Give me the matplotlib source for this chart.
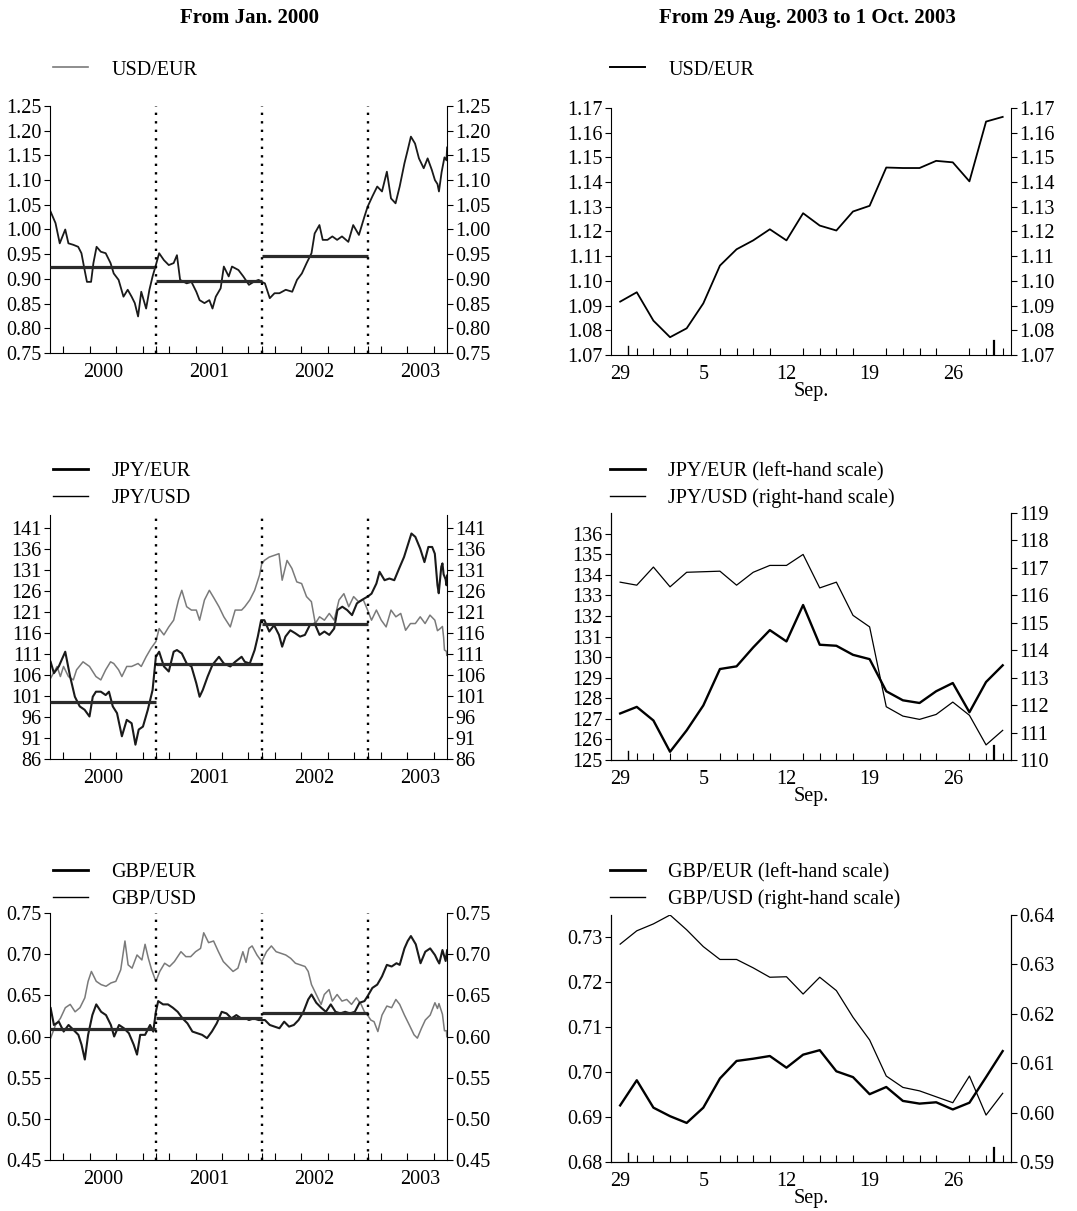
import numpy as np
import matplotlib
matplotlib.use('Agg')
import matplotlib.pyplot as plt
from matplotlib.lines import Line2D
from matplotlib.ticker import FixedLocator, FormatStrFormatter

plt.rcParams['font.family'] = ['Liberation Serif', 'DejaVu Serif']
plt.rcParams['font.size'] = 14.5

# ---------------- data: from Jan. 2000 (decimal years) ----------------
USD_EUR_T = [2000.006, 2000.052, 2000.092, 2000.144, 2000.174, 2000.220, 2000.266, 2000.297, 2000.327, 2000.349,
             2000.388, 2000.410, 2000.440, 2000.480, 2000.526, 2000.572, 2000.602, 2000.648, 2000.694, 2000.734,
             2000.771, 2000.801, 2000.832, 2000.862, 2000.908, 2000.939, 2000.969,
             2001.000, 2001.031, 2001.076, 2001.122, 2001.168, 2001.199, 2001.229, 2001.291, 2001.336, 2001.382,
             2001.413, 2001.459, 2001.505, 2001.535, 2001.566, 2001.612, 2001.642, 2001.688, 2001.719, 2001.780,
             2001.826, 2001.879, 2001.924, 2001.970,
             2002.000, 2002.030, 2002.076, 2002.121, 2002.167, 2002.227, 2002.288, 2002.333, 2002.379, 2002.424,
             2002.470, 2002.500, 2002.545, 2002.576, 2002.621, 2002.667, 2002.712, 2002.758, 2002.818, 2002.864,
             2002.918, 2002.970,
             2003.000, 2003.045, 2003.091, 2003.136, 2003.182, 2003.221, 2003.264, 2003.303, 2003.348, 2003.379,
             2003.409, 2003.448, 2003.485, 2003.530, 2003.567, 2003.606, 2003.636, 2003.660, 2003.674, 2003.699,
             2003.726, 2003.745, 2003.751]
USD_EUR = [1.036, 1.013, 0.972, 1.000, 0.972, 0.969, 0.965, 0.952, 0.918, 0.894,
           0.894, 0.932, 0.965, 0.955, 0.952, 0.932, 0.911, 0.898, 0.864, 0.878,
           0.864, 0.851, 0.824, 0.874, 0.840, 0.878, 0.905,
           0.928, 0.952, 0.938, 0.928, 0.932, 0.948, 0.898, 0.891, 0.894, 0.874,
           0.857, 0.851, 0.857, 0.840, 0.864, 0.881, 0.925, 0.905, 0.925, 0.918,
           0.905, 0.888, 0.894, 0.898,
           0.894, 0.891, 0.861, 0.871, 0.871, 0.878, 0.874, 0.898, 0.911, 0.932,
           0.952, 0.992, 1.009, 0.979, 0.979, 0.986, 0.979, 0.986, 0.975, 1.009,
           0.989, 1.026,
           1.046, 1.067, 1.087, 1.077, 1.117, 1.063, 1.053, 1.087, 1.134, 1.161,
           1.188, 1.174, 1.144, 1.124, 1.144, 1.121, 1.100, 1.092, 1.077, 1.116,
           1.146, 1.140, 1.166]

JPY_EUR_T = [2000.006, 2000.037, 2000.083, 2000.144, 2000.190, 2000.235, 2000.281, 2000.327, 2000.373, 2000.404,
             2000.434, 2000.480, 2000.526, 2000.557, 2000.593, 2000.633, 2000.679, 2000.725, 2000.771, 2000.807,
             2000.838, 2000.878, 2000.924, 2000.969,
             2001.000, 2001.031, 2001.076, 2001.122, 2001.168, 2001.199, 2001.245, 2001.291, 2001.336, 2001.382,
             2001.413, 2001.443, 2001.489, 2001.535, 2001.596, 2001.642, 2001.703, 2001.749, 2001.810, 2001.840,
             2001.887, 2001.933, 2001.963, 2001.994,
             2002.025, 2002.071, 2002.117, 2002.163, 2002.193, 2002.224, 2002.270, 2002.316, 2002.362, 2002.408,
             2002.454, 2002.500, 2002.546, 2002.592, 2002.638, 2002.684, 2002.715, 2002.761, 2002.807, 2002.853,
             2002.899, 2002.945,
             2003.000, 2003.037, 2003.083, 2003.113, 2003.160, 2003.206, 2003.252, 2003.298, 2003.344, 2003.374,
             2003.414, 2003.451, 2003.497, 2003.537, 2003.574, 2003.610, 2003.635, 2003.660, 2003.672, 2003.696,
             2003.707, 2003.718, 2003.737, 2003.745, 2003.751]
JPY_EUR = [109.1, 106.4, 108.0, 111.5, 105.6, 100.8, 98.5, 97.7, 96.1, 100.8,
           102.0, 102.0, 101.2, 102.0, 98.5, 96.9, 91.4, 95.3, 94.5, 89.4,
           93.0, 93.7, 97.7, 102.4,
           110.3, 111.5, 108.0, 106.8, 111.5, 111.9, 111.1, 108.7, 108.0, 104.0,
           100.8, 102.4, 105.6, 108.4, 110.3, 108.7, 108.0, 109.1, 110.3, 109.1,
           108.7, 111.9, 115.1, 119.0,
           119.0, 116.3, 117.8, 115.5, 112.7, 115.1, 116.6, 115.9, 115.1, 115.5,
           117.8, 118.2, 115.5, 116.3, 115.5, 117.0, 121.4, 122.2, 121.4, 120.2,
           123.0, 123.8,
           124.6, 125.3, 127.7, 130.5, 128.5, 128.9, 128.5, 131.3, 134.0, 136.4,
           139.6, 138.8, 136.0, 132.8, 136.4, 136.4, 134.8, 127.3, 125.4, 131.7,
           132.5, 129.9, 128.7, 127.3, 129.6]

JPY_USD_T = [2000.006, 2000.067, 2000.098, 2000.128, 2000.174, 2000.220, 2000.251, 2000.312, 2000.373, 2000.434,
             2000.480, 2000.526, 2000.572, 2000.602, 2000.648, 2000.679, 2000.725, 2000.771, 2000.832, 2000.862,
             2000.908, 2000.954,
             2001.000, 2001.031, 2001.076, 2001.122, 2001.168, 2001.214, 2001.245, 2001.291, 2001.336, 2001.382,
             2001.413, 2001.459, 2001.505, 2001.550, 2001.596, 2001.642, 2001.703, 2001.749, 2001.810, 2001.840,
             2001.887, 2001.933, 2001.979,
             2002.000, 2002.025, 2002.071, 2002.117, 2002.163, 2002.193, 2002.239, 2002.285, 2002.331, 2002.377,
             2002.423, 2002.469, 2002.506, 2002.546, 2002.592, 2002.638, 2002.684, 2002.730, 2002.776, 2002.822,
             2002.868, 2002.914, 2002.960,
             2003.000, 2003.037, 2003.083, 2003.129, 2003.175, 2003.221, 2003.267, 2003.313, 2003.359, 2003.405,
             2003.451, 2003.497, 2003.543, 2003.589, 2003.635, 2003.660, 2003.681, 2003.707, 2003.718, 2003.726,
             2003.745, 2003.748, 2003.751]
JPY_USD = [105.2, 108.0, 105.6, 108.0, 105.6, 104.8, 107.2, 109.1, 108.0, 105.6,
           104.8, 107.2, 109.1, 108.7, 107.2, 105.6, 108.0, 108.0, 108.7, 108.0,
           110.3, 112.3,
           113.9, 117.0, 115.5, 117.4, 119.0, 123.8, 126.1, 122.2, 121.4, 121.4,
           119.0, 123.8, 126.1, 124.2, 122.2, 119.8, 117.4, 121.4, 121.4, 122.2,
           123.8, 126.1, 129.7,
           132.4, 133.2, 134.0, 134.4, 134.8, 128.5, 133.2, 131.3, 128.1, 127.7,
           124.6, 123.4, 118.2, 119.8, 119.0, 120.6, 119.0, 123.8, 125.3, 122.2,
           124.6, 123.4, 123.8,
           121.4, 119.0, 121.4, 119.0, 117.4, 121.4, 119.8, 120.6, 116.6, 118.2,
           118.2, 119.8, 118.2, 120.2, 119.0, 116.5, 116.9, 117.5, 114.9, 111.9,
           111.6, 110.6, 111.1]

GBP_EUR_T = [2000.006, 2000.037, 2000.083, 2000.129, 2000.175, 2000.222, 2000.268, 2000.298, 2000.329, 2000.360,
             2000.400, 2000.437, 2000.483, 2000.529, 2000.575, 2000.606, 2000.652, 2000.698, 2000.745, 2000.791,
             2000.822, 2000.852, 2000.898, 2000.945, 2000.975,
             2001.000, 2001.022, 2001.068, 2001.114, 2001.160, 2001.206, 2001.252, 2001.298, 2001.345, 2001.391,
             2001.437, 2001.483, 2001.529, 2001.575, 2001.622, 2001.668, 2001.714, 2001.760, 2001.806, 2001.852,
             2001.879, 2001.924, 2001.970,
             2002.030, 2002.076, 2002.121, 2002.167, 2002.212, 2002.258, 2002.303, 2002.348, 2002.394, 2002.439,
             2002.470, 2002.515, 2002.561, 2002.606, 2002.652, 2002.697, 2002.742, 2002.788, 2002.833, 2002.879,
             2002.924, 2002.970,
             2003.000, 2003.045, 2003.091, 2003.136, 2003.182, 2003.227, 2003.273, 2003.303, 2003.348, 2003.379,
             2003.409, 2003.455, 2003.500, 2003.545, 2003.591, 2003.636, 2003.660, 2003.677, 2003.707, 2003.737,
             2003.751]
GBP_EUR = [0.6345, 0.614, 0.618, 0.606, 0.614, 0.608, 0.602, 0.590, 0.572, 0.602,
           0.626, 0.639, 0.630, 0.626, 0.614, 0.600, 0.614, 0.610, 0.604, 0.590,
           0.578, 0.602, 0.602, 0.614, 0.606,
           0.630, 0.643, 0.639, 0.639, 0.635, 0.630, 0.622, 0.616, 0.606, 0.604,
           0.602, 0.598, 0.606, 0.616, 0.630, 0.628, 0.622, 0.626, 0.622, 0.622,
           0.620, 0.622, 0.620,
           0.620, 0.614, 0.612, 0.610, 0.618, 0.612, 0.614, 0.620, 0.630, 0.645,
           0.651, 0.641, 0.635, 0.630, 0.639, 0.630, 0.628, 0.630, 0.628, 0.630,
           0.641, 0.643,
           0.649, 0.659, 0.663, 0.673, 0.687, 0.685, 0.689, 0.687, 0.707, 0.716,
           0.722, 0.712, 0.689, 0.703, 0.707, 0.699, 0.6926, 0.6887, 0.705, 0.6917,
           0.7047]

GBP_USD_T = [2000.006, 2000.052, 2000.098, 2000.145, 2000.191, 2000.237, 2000.283, 2000.329, 2000.360, 2000.391,
             2000.437, 2000.483, 2000.529, 2000.575, 2000.622, 2000.668, 2000.708, 2000.738, 2000.775, 2000.822,
             2000.868, 2000.898, 2000.929, 2000.960,
             2001.000, 2001.037, 2001.083, 2001.129, 2001.175, 2001.237, 2001.283, 2001.329, 2001.375, 2001.422,
             2001.452, 2001.498, 2001.545, 2001.591, 2001.637, 2001.683, 2001.729, 2001.775, 2001.822, 2001.852,
             2001.879, 2001.909, 2001.955,
             2002.000, 2002.045, 2002.091, 2002.136, 2002.182, 2002.227, 2002.273, 2002.318, 2002.364, 2002.409,
             2002.439, 2002.470, 2002.500, 2002.530, 2002.561, 2002.591, 2002.636, 2002.667, 2002.712, 2002.758,
             2002.803, 2002.848, 2002.894, 2002.939, 2002.970,
             2003.000, 2003.030, 2003.061, 2003.097, 2003.136, 2003.182, 2003.227, 2003.267, 2003.303, 2003.348,
             2003.394, 2003.439, 2003.470, 2003.509, 2003.545, 2003.591, 2003.636, 2003.660, 2003.674, 2003.707,
             2003.726, 2003.745, 2003.748, 2003.751]
GBP_USD = [0.598, 0.614, 0.622, 0.635, 0.639, 0.630, 0.635, 0.647, 0.667, 0.679,
           0.667, 0.663, 0.661, 0.665, 0.667, 0.681, 0.716, 0.687, 0.683, 0.699,
           0.693, 0.712, 0.695, 0.681,
           0.667, 0.679, 0.689, 0.685, 0.691, 0.703, 0.697, 0.697, 0.703, 0.707,
           0.726, 0.714, 0.716, 0.703, 0.691, 0.685, 0.679, 0.683, 0.703, 0.690,
           0.707, 0.710, 0.699,
           0.691, 0.703, 0.710, 0.703, 0.701, 0.699, 0.695, 0.689, 0.687, 0.685,
           0.679, 0.663, 0.655, 0.647, 0.639, 0.651, 0.657, 0.643, 0.651, 0.643,
           0.645, 0.639, 0.647, 0.639, 0.630,
           0.626, 0.620, 0.618, 0.606, 0.626, 0.637, 0.635, 0.645, 0.639, 0.626,
           0.614, 0.602, 0.598, 0.610, 0.620, 0.626, 0.641, 0.634, 0.640, 0.627,
           0.607, 0.607, 0.5995, 0.604]

# yearly averages (horizontal bars)
MEAN_YEARS = [2000, 2001, 2002]
USD_EUR_MEAN = [0.9236, 0.8956, 0.9456]
JPY_EUR_MEAN = [99.47, 108.68, 118.06]
GBP_EUR_MEAN = [0.6095, 0.6219, 0.6288]
YEAR_BREAKS = [2001, 2002, 2003]
YEARS = [2000, 2001, 2002, 2003]

# ---------------- data: 29 Aug. 2003 to 1 Oct. 2003 (business days) ----------------
SEP_DAY = [29, 1, 2, 3, 4, 5, 8, 9, 10, 11, 12, 15, 16, 17, 18, 19, 22, 23, 24, 25, 26, 29, 30, 1]
USD_EUR_D = [1.0916, 1.0954, 1.0839, 1.0772, 1.0808, 1.0909, 1.1062, 1.1128, 1.1164, 1.1209, 1.1164, 1.1274,
             1.1224, 1.1204, 1.1281, 1.1304, 1.1459, 1.1457, 1.1457, 1.1486, 1.1480, 1.1403, 1.1645, 1.1664]
JPY_EUR_D = [127.26, 127.58, 126.92, 125.40, 126.44, 127.65, 129.42, 129.55, 130.47, 131.31, 130.76, 132.53,
             130.60, 130.55, 130.11, 129.90, 128.34, 127.90, 127.77, 128.34, 128.74, 127.32, 128.79, 129.60]
JPY_USD_D = [116.48, 116.37, 117.03, 116.31, 116.84, 116.86, 116.88, 116.37, 116.84, 117.09, 117.09, 117.49,
             116.27, 116.48, 115.27, 114.85, 111.94, 111.60, 111.48, 111.66, 112.11, 111.63, 110.55, 111.08]
GBP_EUR_D = [0.6926, 0.6982, 0.6921, 0.6902, 0.6887, 0.6921, 0.6986, 0.7025, 0.7030, 0.7036, 0.7010, 0.7039,
             0.7049, 0.7002, 0.6989, 0.6951, 0.6967, 0.6936, 0.6930, 0.6933, 0.6917, 0.6932, 0.6989, 0.7047]
GBP_USD_D = [0.6341, 0.6368, 0.6382, 0.6400, 0.6370, 0.6336, 0.6310, 0.6310, 0.6293, 0.6274, 0.6275, 0.6240,
             0.6274, 0.6247, 0.6193, 0.6147, 0.6074, 0.6051, 0.6044, 0.6032, 0.6020, 0.6074, 0.5995, 0.6039]
LABEL_IDX = [0, 5, 10, 15, 20]
MONTH_BREAKS = [0.5, 22.5]

# ---------------- layout helpers (pixel boxes of the 1077x1211 page) ----------------
W, H = 1077, 1211
DARK, GREY = '#1a1a1a', '#7a7a7a'


def box(x0, y0, x1, y1):
    return [x0 / W, 1 - y1 / H, (x1 - x0) / W, (y1 - y0) / H]


def add_legend(fig, handles, labels, x, yc):
    fig.legend(handles, labels, loc='center left', bbox_to_anchor=(x / W, 1 - yc / H),
               frameon=False, handlelength=1.75, handletextpad=1.15, labelspacing=0.38,
               borderpad=0, borderaxespad=0, fontsize=14.5)


def style_left(ax, lo, hi, ticks, fmt):
    ax.set_xlim(2000, 2003.75)
    ax.set_ylim(lo, hi)
    ax.spines['top'].set_visible(False)
    ax.yaxis.set_major_locator(FixedLocator(ticks))
    ax.yaxis.set_major_formatter(FormatStrFormatter(fmt))
    ax.tick_params(axis='y', direction='out', length=4, width=0.8, pad=2,
                   left=True, right=True, labelleft=True, labelright=True)
    ax.xaxis.set_major_locator(FixedLocator([y + 0.5 for y in YEARS]))
    ax.set_xticklabels([str(y) for y in YEARS])
    minor = [y + q for y in YEARS for q in (0.125, 0.375, 0.625, 0.875)] + YEAR_BREAKS
    ax.xaxis.set_minor_locator(FixedLocator([m for m in minor if m < 2003.75]))
    ax.tick_params(axis='x', which='major', length=0, pad=7)
    ax.tick_params(axis='x', which='minor', direction='in', length=5, width=0.8)
    for b in YEAR_BREAKS:
        ax.axvline(b, color='k', lw=1.7, linestyle=(0, (1.0, 2.6)), zorder=4)


def style_right(ax):
    ax.set_xlim(-0.55, len(SEP_DAY) - 0.5)
    ax.spines['top'].set_visible(False)
    ax.xaxis.set_major_locator(FixedLocator(LABEL_IDX))
    ax.set_xticklabels([str(SEP_DAY[i]) for i in LABEL_IDX])
    ax.xaxis.set_minor_locator(FixedLocator(range(len(SEP_DAY))))
    ax.tick_params(axis='x', which='major', length=0, pad=7)
    ax.tick_params(axis='x', which='minor', direction='in', length=5, width=0.8)
    ax.tick_params(axis='y', direction='out', length=4, width=0.8, pad=2)
    ax.set_xlabel('Sep.', labelpad=-1)
    for b, h, w in zip(MONTH_BREAKS, (0.036, 0.055), (1.0, 1.6)):
        ax.axvline(b, ymin=0, ymax=h, color='k', lw=w)


def mean_bars(ax, means):
    for y, m in zip(MEAN_YEARS, means):
        ax.hlines(m, y, y + 1, color='#2b2b2b', lw=2.3, zorder=3)


fig = plt.figure(figsize=(W / 100, H / 100), dpi=100)
fig.text(250 / W, 1 - 18 / H, 'From Jan. 2000', ha='center', va='center', fontweight='bold', fontsize=15)
fig.text(807 / W, 1 - 18 / H, 'From 29 Aug. 2003 to 1 Oct. 2003', ha='center', va='center',
         fontweight='bold', fontsize=15)

idx = np.arange(len(SEP_DAY))
thick = Line2D([], [], color='k', lw=2.0)
thin = Line2D([], [], color='k', lw=1.0)

# ---- row 1 left: USD/EUR
ax = fig.add_axes(box(50, 106, 447, 353))
ax.plot(USD_EUR_T, USD_EUR, color=DARK, lw=1.3)
mean_bars(ax, USD_EUR_MEAN)
style_left(ax, 0.75, 1.25, np.arange(0.75, 1.2501, 0.05), '%.2f')
add_legend(fig, [Line2D([], [], color=GREY, lw=1.2)], ['USD/EUR'], 53, 70)

# ---- row 1 right: USD/EUR daily
ax = fig.add_axes(box(611, 108, 1011, 355))
ax.plot(idx, USD_EUR_D, color='k', lw=1.3)
ax.set_ylim(1.07, 1.17)
ax.yaxis.set_major_locator(FixedLocator(np.arange(1.07, 1.1701, 0.01)))
ax.yaxis.set_major_formatter(FormatStrFormatter('%.2f'))
style_right(ax)
ax.tick_params(axis='y', right=True, labelright=True)
add_legend(fig, [Line2D([], [], color='k', lw=1.4)], ['USD/EUR'], 610, 70)

# ---- row 2 left: JPY
ax = fig.add_axes(box(50, 515, 447, 759))
ax.plot(JPY_USD_T, JPY_USD, color=GREY, lw=1.1)
ax.plot(JPY_EUR_T, JPY_EUR, color=DARK, lw=1.5)
mean_bars(ax, JPY_EUR_MEAN)
style_left(ax, 86, 144, np.arange(86, 142, 5), '%d')
add_legend(fig, [thick, thin], ['JPY/EUR', 'JPY/USD'], 53, 485)

# ---- row 2 right: JPY daily, two scales
ax = fig.add_axes(box(611, 513, 1011, 760))
ax.plot(idx, JPY_EUR_D, color='k', lw=1.7)
ax.set_ylim(125, 137)
ax.yaxis.set_major_locator(FixedLocator(np.arange(125, 137)))
style_right(ax)
ax2 = ax.twinx()
ax2.plot(idx, JPY_USD_D, color='k', lw=0.9)
ax2.set_ylim(110, 119)
ax2.yaxis.set_major_locator(FixedLocator(np.arange(110, 120)))
ax2.spines['top'].set_visible(False)
ax2.tick_params(axis='y', direction='out', length=4, width=0.8, pad=2)
add_legend(fig, [thick, thin], ['JPY/EUR (left-hand scale)', 'JPY/USD (right-hand scale)'], 610, 485)

# ---- row 3 left: GBP
ax = fig.add_axes(box(50, 913, 447, 1160))
ax.plot(GBP_USD_T, GBP_USD, color=GREY, lw=1.1)
ax.plot(GBP_EUR_T, GBP_EUR, color=DARK, lw=1.5)
mean_bars(ax, GBP_EUR_MEAN)
style_left(ax, 0.45, 0.75, np.arange(0.45, 0.7501, 0.05), '%.2f')
add_legend(fig, [thick, thin], ['GBP/EUR', 'GBP/USD'], 53, 886)

# ---- row 3 right: GBP daily, two scales
ax = fig.add_axes(box(611, 915, 1011, 1162))
ax.plot(idx, GBP_EUR_D, color='k', lw=1.7)
ax.set_ylim(0.68, 0.735)
ax.yaxis.set_major_locator(FixedLocator(np.arange(0.68, 0.7301, 0.01)))
ax.yaxis.set_major_formatter(FormatStrFormatter('%.2f'))
style_right(ax)
ax2 = ax.twinx()
ax2.plot(idx, GBP_USD_D, color='k', lw=0.9)
ax2.set_ylim(0.59, 0.64)
ax2.yaxis.set_major_locator(FixedLocator(np.arange(0.59, 0.6401, 0.01)))
ax2.yaxis.set_major_formatter(FormatStrFormatter('%.2f'))
ax2.spines['top'].set_visible(False)
ax2.tick_params(axis='y', direction='out', length=4, width=0.8, pad=2)
add_legend(fig, [thick, thin], ['GBP/EUR (left-hand scale)', 'GBP/USD (right-hand scale)'], 610, 886)

fig.savefig('out.png', dpi=100)
